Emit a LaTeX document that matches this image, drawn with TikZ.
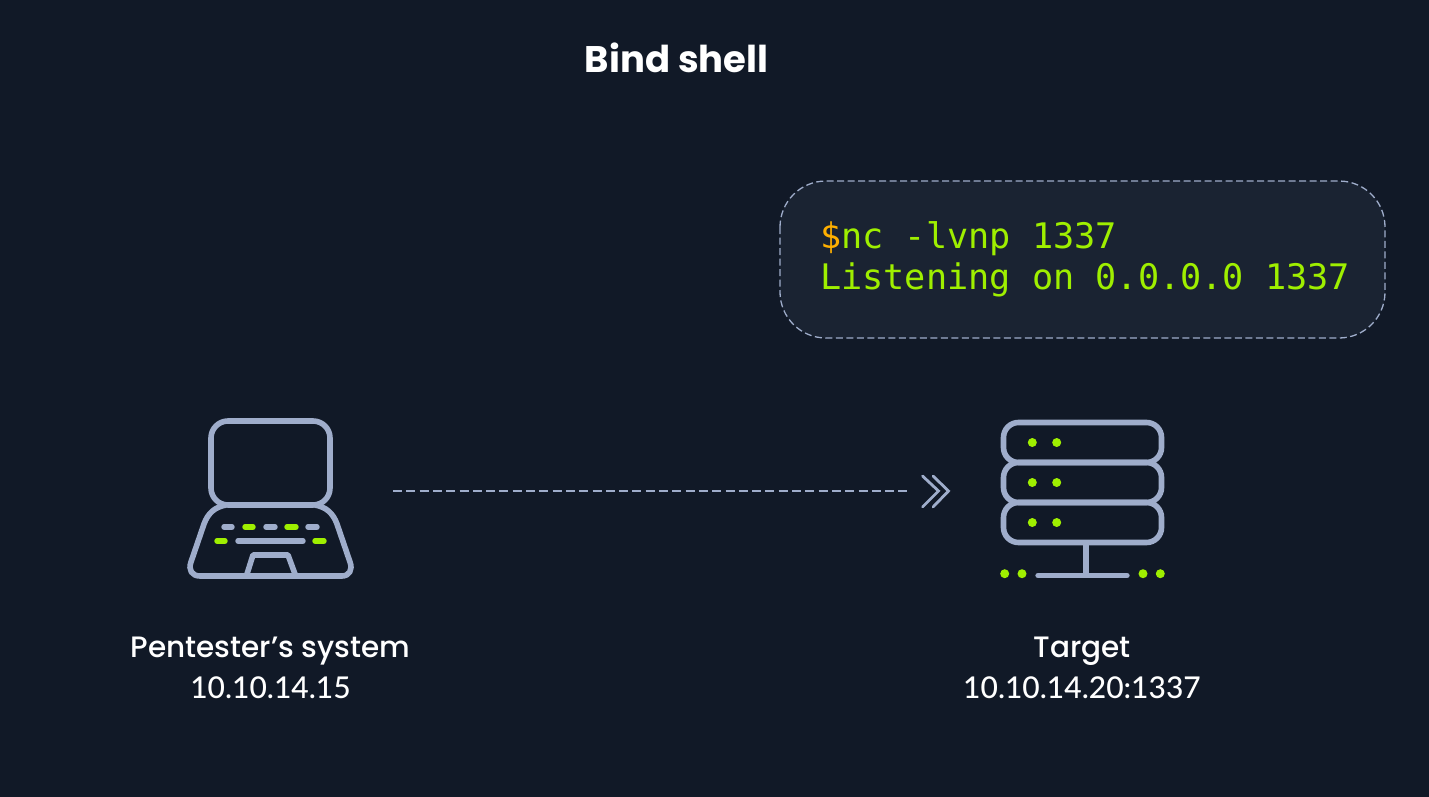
\documentclass[tikz,border=0pt]{standalone}
\usepackage{fontspec}
\setmainfont{Poppins}[UprightFont=* Medium,BoldFont=* Bold]
\setmonofont{DejaVu Sans Mono}
\newfontfamily\numfont{Lato}[UprightFont=* Medium]
\usepackage{xcolor}
\usetikzlibrary{positioning}
\definecolor{bgdark}{HTML}{111927}
\definecolor{boxfill}{HTML}{1A2332}
\definecolor{icongray}{HTML}{9FADCB}
\definecolor{limegreen}{HTML}{9FEF00}
\definecolor{dollarorange}{HTML}{FFAF00}
\tikzset{
  icon/.style={draw=icongray,line width=5.6pt,line join=round},
  gray key/.style={draw=icongray,line width=5.4pt,line cap=round},
  green key/.style={draw=limegreen,line width=5.4pt,line cap=round},
  led/.style={fill=limegreen,circle,inner sep=0pt,minimum size=9pt},
  caption/.style={text=white,align=center,font=\fontsize{29.5}{41}\selectfont},
  termline/.style={text=limegreen,anchor=base west,inner sep=0pt,font=\ttfamily\fontsize{35.2}{42}\selectfont},
  box dash/.style={draw=icongray,line width=1.3pt,dash pattern=on 7pt off 3.5pt},
  link dash/.style={draw=icongray,line width=1.8pt,dash pattern=on 9pt off 4.3pt}
}
\begin{document}
\begin{tikzpicture}[x=1pt,y=-1pt]
  \fill[bgdark] (0,0) rectangle (1429,797);
  \useasboundingbox (0,0) rectangle (1429,797);

  \node[text=white,font=\bfseries\fontsize{37}{44}\selectfont] (title) at (676.5,58) {Bind shell};

  \draw[box dash,fill=boxfill,rounded corners=46pt] (780,181) rectangle (1385,338);
  \node[termline] (cmdline) at (820,248) {\textcolor{dollarorange}{\$}nc -lvnp 1337};
  \node[termline] (listenline) at (820,289) {Listening on 0.0.0.0 1337};

  \draw[icon,rounded corners=17pt] (211,421) rectangle (330,505);
  \draw[icon] (226,505) .. controls (215,507) and (208,513) .. (204,524) -- (191,562)
    .. controls (188,570) and (192,576) .. (200,576) -- (342,576)
    .. controls (349,576) and (353,570) .. (350,562) -- (337,524)
    .. controls (333,513) and (326,507) .. (315,505);
  \draw[icon] (247,574) -- (253,555) -- (288,555) -- (295,574);
  \draw[gray key] (224,527) -- (232,527);
  \draw[green key] (245,527) -- (253,527);
  \draw[gray key] (266,527) -- (275,527);
  \draw[green key] (287,527) -- (296,527);
  \draw[gray key] (308,527) -- (317,527);
  \draw[green key] (217,541) -- (225,541);
  \draw[gray key] (238,541) -- (303,541);
  \draw[green key] (315,541) -- (324,541);

  \draw[icon,rounded corners=15pt] (1003.5,422.5) rectangle (1161.5,462.5);
  \draw[icon,rounded corners=15pt] (1003.5,462.5) rectangle (1161.5,502.5);
  \draw[icon,rounded corners=15pt] (1003.5,502.5) rectangle (1161.5,542.5);
  \foreach \ledrow in {442.5,482.5,522.5}{
    \node[led] at (1032.3,\ledrow) {};
    \node[led] at (1056.7,\ledrow) {};
  }
  \draw[gray key] (1086,544) -- (1086,575);
  \draw[gray key] (1038,575.5) -- (1127,575.5);
  \foreach \ledx in {1004.7,1022,1143,1160.3}{
    \node[led] at (\ledx,573.7) {};
  }

  \coordinate (linestart) at (393,491);
  \coordinate (lineend) at (908,491);
  \draw[link dash] (linestart) -- (lineend);
  \draw[icongray,line width=2.8pt,line cap=round] (922.5,476) -- (938.5,491) -- (922.5,507);
  \draw[icongray,line width=2.8pt,line cap=round] (933,476) -- (948.5,491) -- (933,507);

  \node[caption] (laptoplabel) at (270.5,667.5) {Pentester’s system\\{\numfont\fontsize{30}{41}\selectfont 10.10.14.15}};
  \node[caption] (targetlabel) at (1082,667.5) {Target\\{\numfont\fontsize{30}{41}\selectfont 10.10.14.20:1337}};
\end{tikzpicture}
\end{document}
